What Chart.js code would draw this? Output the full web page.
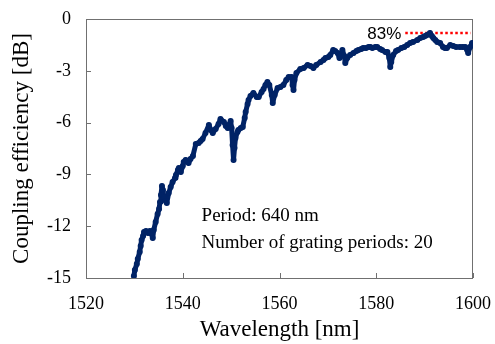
<!DOCTYPE html>
<html>
<head>
<meta charset="utf-8">
<script src="https://cdn.jsdelivr.net/npm/chart.js@4.4.1/dist/chart.umd.min.js"></script>
<style>
  html, body { margin: 0; padding: 0; background: #fff; }
  #wrap { width: 495px; height: 344px; }
</style>
</head>
<body>
<div id="wrap"><canvas id="couplingChart" width="495" height="344"></canvas></div>
<script>
// measured spectrum: wavelength [nm] vs coupling efficiency [dB]
const wavelength = [
  1529.9, 1530.1, 1530.5, 1530.7, 1531.1, 1531.3, 1531.5, 1531.8, 1532.0, 1532.4,
  1532.8, 1533.2, 1533.4, 1533.8, 1534.0, 1534.4, 1534.8, 1535.1, 1535.3, 1535.5,
  1535.7, 1535.9, 1536.1, 1536.5, 1536.7, 1537.1, 1537.5, 1537.9, 1538.4, 1538.6,
  1539.0, 1539.2, 1539.6, 1540.0, 1540.2, 1540.6, 1541.2, 1541.6, 1542.1, 1542.7,
  1543.3, 1543.7, 1544.1, 1544.7, 1545.4, 1545.8, 1546.2, 1546.8, 1547.4, 1547.8,
  1548.5, 1548.9, 1549.3, 1549.7, 1549.9, 1550.1, 1550.3, 1550.5, 1550.7, 1550.9,
  1551.3, 1551.5, 1552.0, 1552.4, 1552.8, 1553.0, 1553.4, 1553.6, 1554.0, 1554.6,
  1555.3, 1555.7, 1556.3, 1556.7, 1557.1, 1557.5, 1557.9, 1558.4, 1558.6, 1559.0,
  1559.6, 1560.2, 1560.8, 1561.4, 1561.9, 1562.5, 1562.7, 1562.9, 1563.1, 1563.5,
  1564.3, 1565.0, 1565.8, 1566.4, 1567.0, 1567.6, 1568.5, 1569.1, 1569.5, 1570.1,
  1570.5, 1571.1, 1571.5, 1572.0, 1572.4, 1572.6, 1573.0, 1573.4, 1573.6, 1574.0,
  1574.6, 1575.3, 1575.9, 1576.3, 1576.9, 1577.3, 1577.9, 1578.4, 1578.8, 1579.2,
  1579.8, 1580.2, 1580.8, 1581.2, 1581.9, 1582.3, 1582.7, 1582.9, 1583.1, 1583.5,
  1584.1, 1584.5, 1585.2, 1585.8, 1586.4, 1587.0, 1587.6, 1588.5, 1589.1, 1589.7,
  1590.1, 1590.5, 1591.1, 1591.5, 1591.8, 1592.2, 1592.6, 1593.2, 1593.8, 1594.2,
  1594.6, 1595.3, 1595.9, 1596.5, 1597.3, 1597.9, 1598.4, 1598.8, 1599.0, 1599.4,
  1599.8
];
const efficiency = [
  -14.88, -14.53, -14.19, -13.90, -13.49, -13.14, -12.80, -12.57, -12.33, -12.28,
  -12.39, -12.28, -12.39, -12.68, -12.22, -11.75, -11.29, -11.00, -10.60, -10.19,
  -9.67, -9.90, -10.31, -10.54, -10.65, -10.08, -9.73, -9.44, -9.21, -9.03,
  -8.74, -8.63, -8.86, -8.51, -8.28, -8.16, -8.34, -8.11, -7.93, -7.24,
  -7.18, -7.06, -6.95, -6.60, -6.14, -6.43, -6.60, -6.37, -6.08, -5.79,
  -5.96, -6.20, -6.31, -6.08, -5.91, -6.31, -7.30, -8.16, -7.47, -6.89,
  -6.54, -6.43, -6.31, -6.25, -5.73, -5.39, -4.92, -4.69, -4.46, -4.28,
  -4.52, -4.52, -4.23, -4.05, -3.82, -3.65, -3.82, -4.40, -4.86, -4.40,
  -4.00, -3.94, -3.82, -3.53, -3.36, -3.36, -3.82, -4.11, -3.53, -3.13,
  -2.90, -2.84, -2.66, -2.72, -2.84, -2.66, -2.49, -2.37, -2.26, -2.20,
  -2.08, -1.80, -1.85, -1.97, -2.26, -2.14, -1.80, -2.14, -2.55, -2.26,
  -2.08, -1.97, -1.85, -1.80, -1.74, -1.68, -1.68, -1.62, -1.62, -1.68,
  -1.62, -1.62, -1.74, -1.80, -1.91, -1.91, -2.26, -2.78, -2.49, -2.08,
  -1.85, -1.80, -1.68, -1.62, -1.51, -1.39, -1.33, -1.22, -1.10, -1.04,
  -0.98, -0.93, -0.81, -0.98, -1.10, -1.22, -1.33, -1.39, -1.62, -1.68,
  -1.68, -1.51, -1.56, -1.62, -1.62, -1.62, -1.62, -1.80, -1.97, -1.62,
  -1.39
];

// 83 % reference level (10*log10(0.83) = -0.81 dB)
const peakLabel = '83%';
const peakLevel = -0.81;
const peakSpan = [1586.0, 1599.5];

const xTicks = [1520, 1540, 1560, 1580, 1600];
const yTicks = [0, -3, -6, -9, -12, -15];

const noteLines = ['Period: 640 nm', 'Number of grating periods: 20'];

const serif = '"Liberation Serif", "Times New Roman", serif';
const navy = '#002366';

// box around the plot with inward tick marks, plus the text notes
const framePlugin = {
  id: 'frame',
  beforeDatasetsDraw(chart) {
    const { ctx, chartArea: a, scales } = chart;
    ctx.save();
    ctx.strokeStyle = '#707070';
    ctx.lineWidth = 1;
    ctx.strokeRect(a.left + 0.5, a.top + 0.5, a.right - a.left - 1, a.bottom - a.top);
    ctx.beginPath();
    xTicks.forEach(v => {
      const px = Math.round(scales.x.getPixelForValue(v)) + 0.5;
      ctx.moveTo(px, a.bottom);
      ctx.lineTo(px, a.bottom - 5);
    });
    yTicks.forEach(v => {
      const py = Math.round(scales.y.getPixelForValue(v)) + 0.5;
      ctx.moveTo(a.left, py);
      ctx.lineTo(a.left + 5, py);
    });
    ctx.stroke();
    ctx.restore();
  },
  afterDatasetsDraw(chart) {
    const { ctx, scales } = chart;
    ctx.save();
    ctx.fillStyle = '#000';
    ctx.font = '19px ' + serif;
    ctx.textBaseline = 'middle';
    ctx.textAlign = 'left';
    const nx = scales.x.getPixelForValue(1543.9);
    ctx.fillText(noteLines[0], nx, scales.y.getPixelForValue(-11.4));
    ctx.fillText(noteLines[1], nx, scales.y.getPixelForValue(-12.95));
    ctx.font = '17px "Liberation Sans", Arial, sans-serif';
    ctx.textAlign = 'right';
    ctx.fillText(peakLabel, scales.x.getPixelForValue(peakSpan[0]) - 4, scales.y.getPixelForValue(peakLevel) + 1);
    ctx.restore();
  }
};

const ctx = document.getElementById('couplingChart').getContext('2d');
new Chart(ctx, {
  type: 'scatter',
  data: {
    datasets: [
      {
        data: wavelength.map((w, i) => ({ x: w, y: efficiency[i] })),
        showLine: true,
        borderColor: navy,
        backgroundColor: navy,
        borderWidth: 5,
        borderJoinStyle: 'round',
        borderCapStyle: 'round',
        pointRadius: 3,
        pointBorderWidth: 0,
        tension: 0
      },
      {
        data: [{ x: peakSpan[0], y: peakLevel }, { x: peakSpan[1], y: peakLevel }],
        showLine: true,
        borderColor: '#ff0000',
        borderWidth: 2.5,
        borderDash: [2.5, 2.5],
        pointRadius: 0
      }
    ]
  },
  options: {
    responsive: false,
    animation: false,
    layout: { padding: { left: 0, right: 22, top: 19, bottom: 0 } },
    plugins: {
      legend: { display: false },
      tooltip: { enabled: false }
    },
    scales: {
      x: {
        type: 'linear',
        min: 1520,
        max: 1600,
        afterBuildTicks: s => { s.ticks = xTicks.map(v => ({ value: v })); },
        afterFit: s => { s.height = 66; s.paddingLeft = 0; s.paddingRight = 0; },
        grid: { display: false, drawTicks: false },
        border: { display: false },
        ticks: {
          color: '#000',
          font: { family: serif, size: 18 },
          padding: 15,
          maxRotation: 0,
          callback: v => String(v)
        },
        title: {
          display: true,
          text: 'Wavelength [nm]',
          color: '#000',
          font: { family: serif, size: 23 },
          padding: { top: 6, bottom: 0 }
        }
      },
      y: {
        type: 'linear',
        min: -15,
        max: 0,
        afterBuildTicks: s => { s.ticks = yTicks.map(v => ({ value: v })); },
        afterFit: s => { s.width = 86; s.paddingTop = 0; s.paddingBottom = 0; },
        grid: { display: false, drawTicks: false },
        border: { display: false },
        ticks: { color: '#000', font: { family: serif, size: 18 }, padding: 15 },
        title: {
          display: true,
          text: 'Coupling efficiency [dB]',
          color: '#000',
          font: { family: serif, size: 23 },
          padding: { top: 8, bottom: 0 }
        }
      }
    }
  },
  plugins: [framePlugin]
});
</script>
</body>
</html>
